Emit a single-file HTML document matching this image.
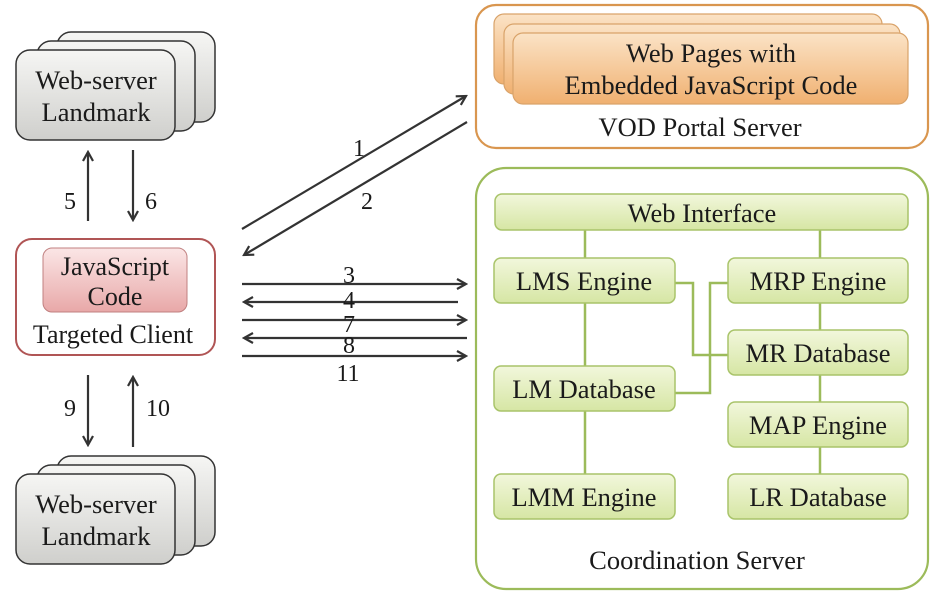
<!DOCTYPE html>
<html><head><meta charset="utf-8"><style>
body{margin:0;background:#fff}
svg{display:block}
text{font-family:"Liberation Serif",serif;fill:#1a1a1a}
</style></head><body>
<svg width="942" height="597" viewBox="0 0 942 597" xmlns="http://www.w3.org/2000/svg">
<defs>
<linearGradient id="g" x1="0" y1="0" x2="0" y2="1"><stop offset="0" stop-color="#f6f6f4"/><stop offset="1" stop-color="#cfcfcc"/></linearGradient>
<linearGradient id="o" x1="0" y1="0" x2="0" y2="1"><stop offset="0" stop-color="#fbe3c6"/><stop offset="1" stop-color="#f0b070"/></linearGradient>
<linearGradient id="gr" x1="0" y1="0" x2="0" y2="1"><stop offset="0" stop-color="#f2f7dc"/><stop offset="1" stop-color="#d6e6a4"/></linearGradient>
<linearGradient id="r" x1="0" y1="0" x2="0" y2="1"><stop offset="0" stop-color="#fbe6e6"/><stop offset="1" stop-color="#e8a8a8"/></linearGradient>
<marker id="a" markerWidth="12" markerHeight="12" refX="10" refY="6" orient="auto" markerUnits="userSpaceOnUse"><path d="M1,1 L10,6 L1,11" fill="none" stroke="#333" stroke-width="2.2"/></marker>
</defs>
<g stroke="#333" stroke-width="1.5" fill="url(#g)">
<rect x="57" y="32" width="158" height="90" rx="14"/>
<rect x="37" y="41" width="158" height="90" rx="14"/>
<rect x="16" y="50" width="159" height="90" rx="14"/>
<rect x="57" y="456" width="158" height="90" rx="14"/>
<rect x="37" y="465" width="158" height="90" rx="14"/>
<rect x="16" y="474" width="159" height="90" rx="14"/>
</g>
<g font-size="26.5" text-anchor="middle">
<text x="96" y="89">Web-server</text><text x="96" y="121">Landmark</text>
<text x="96" y="513">Web-server</text><text x="96" y="545">Landmark</text>
</g>
<rect x="16" y="239" width="199" height="116" rx="16" fill="#fff" stroke="#b05555" stroke-width="2"/>
<rect x="43" y="248" width="144" height="64" rx="9" fill="url(#r)" stroke="#c08080" stroke-width="1"/>
<g font-size="26" text-anchor="middle"><text x="115" y="275">JavaScript</text><text x="115" y="305">Code</text><text x="113" y="343">Targeted Client</text></g>
<g stroke="#333" stroke-width="2.2" fill="none" marker-end="url(#a)">
<line x1="88" y1="221" x2="88" y2="152"/>
<line x1="133" y1="150" x2="133" y2="220"/>
<line x1="88" y1="375" x2="88" y2="445"/>
<line x1="133" y1="447" x2="133" y2="377"/>
<line x1="242" y1="229" x2="466" y2="96"/>
<line x1="467" y1="122" x2="244" y2="255"/>
<line x1="242" y1="284" x2="466" y2="284"/>
<line x1="458" y1="302" x2="244" y2="302"/>
<line x1="242" y1="320" x2="466" y2="320"/>
<line x1="467" y1="338" x2="244" y2="338"/>
<line x1="242" y1="356" x2="466" y2="356"/>
</g>
<g font-size="24" text-anchor="middle">
<text x="70" y="209">5</text><text x="151" y="209">6</text>
<text x="70" y="416">9</text><text x="158" y="416">10</text>
<text x="359" y="156">1</text><text x="367" y="209">2</text>
<text x="349" y="283">3</text><text x="349" y="308">4</text><text x="349" y="332">7</text><text x="349" y="353">8</text><text x="348" y="381">11</text>
</g>
<rect x="476" y="5" width="452" height="143" rx="20" fill="#fff" stroke="#d9964f" stroke-width="2.2"/>
<g stroke="#d9a36a" stroke-width="1.2" fill="url(#o)">
<rect x="494" y="14" width="388" height="70" rx="10"/>
<rect x="504" y="24" width="396" height="70" rx="10"/>
<rect x="513" y="33" width="395" height="71" rx="10"/>
</g>
<g font-size="26.5" text-anchor="middle"><text x="711" y="62">Web Pages with</text><text x="711" y="94">Embedded JavaScript Code</text><text x="700" y="136">VOD Portal Server</text></g>
<rect x="476" y="168" width="452" height="421" rx="30" fill="#fff" stroke="#9cbb5a" stroke-width="2.2"/>
<g stroke="#9cbb5a" stroke-width="2.5" fill="none">
<line x1="585" y1="230" x2="585" y2="480"/>
<line x1="820" y1="230" x2="820" y2="480"/>
<polyline points="675,283 693,283 693,355 728,355"/>
<polyline points="675,393 710,393 710,283 728,283"/>
</g>
<g stroke="#a9c46a" stroke-width="1.5" fill="url(#gr)">
<rect x="495" y="194" width="413" height="36" rx="7"/>
<rect x="494" y="258" width="181" height="45" rx="7"/>
<rect x="728" y="258" width="180" height="45" rx="7"/>
<rect x="728" y="330" width="180" height="45" rx="7"/>
<rect x="494" y="366" width="181" height="45" rx="7"/>
<rect x="728" y="402" width="180" height="45" rx="7"/>
<rect x="494" y="474" width="181" height="45" rx="7"/>
<rect x="728" y="474" width="180" height="45" rx="7"/>
</g>
<g font-size="26.5" text-anchor="middle">
<text x="702" y="222">Web Interface</text>
<text x="584" y="290">LMS Engine</text><text x="818" y="290">MRP Engine</text>
<text x="818" y="362">MR Database</text><text x="584" y="398">LM Database</text>
<text x="818" y="434">MAP Engine</text><text x="584" y="506">LMM Engine</text><text x="818" y="506">LR Database</text>
<text x="697" y="569">Coordination Server</text>
</g>
</svg>
</body></html>
